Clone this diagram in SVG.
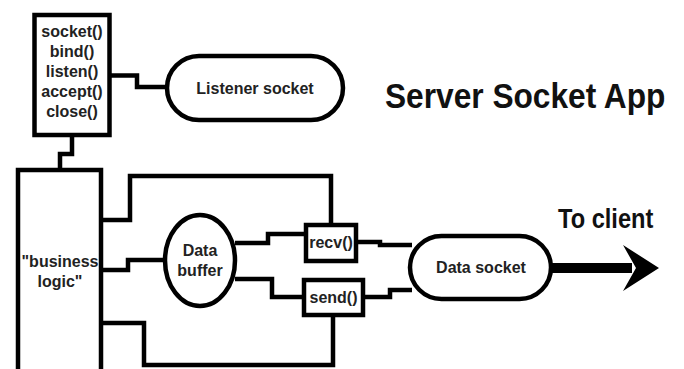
<svg xmlns="http://www.w3.org/2000/svg" width="684" height="369" viewBox="0 0 684 369">
<style>
.box{fill:#fff;stroke:#000;stroke-width:4.5}
.wire{fill:none;stroke:#000;stroke-width:4.5;stroke-linejoin:miter}
.t{font-family:"Liberation Sans",Arial,sans-serif;font-weight:bold;font-size:16px;fill:#222;text-anchor:middle}
.big{font-family:"Liberation Sans",Arial,sans-serif;font-weight:bold;fill:#111}
</style>
<rect width="684" height="369" fill="#fff"/>
<g id="connectors">
  <polyline class="wire" points="111,75.5 137,75.5 137,87 167,87"/>
  <polyline class="wire" points="72,137 72,154 60,154 60,170"/>
  <polyline class="wire" points="101,220 130,220 130,176 331,176 331,225"/>
  <polyline class="wire" points="101,270 128,270 128,260 165,260"/>
  <polyline class="wire" points="235,243 268,243 268,234 306,234"/>
  <polyline class="wire" points="235,279 272,279 272,297 304,297"/>
  <polyline class="wire" points="101,323 144,323 144,365 333,365 333,315"/>
  <polyline class="wire" points="356,242 380,242 380,245 412,245"/>
  <polyline class="wire" points="363,297 390,297 390,290 412,290"/>
  <line x1="551" y1="268" x2="632" y2="268" stroke="#000" stroke-width="10"/>
  <polygon points="623,245 659,268 623,291 636,268" fill="#000"/>
</g>
<g id="api-calls">
  <rect class="box" x="34.5" y="15" width="75" height="120"/>
  <text class="t" x="72" y="37">socket()</text>
  <text class="t" x="72" y="57">bind()</text>
  <text class="t" x="72" y="77">listen()</text>
  <text class="t" x="72" y="97">accept()</text>
  <text class="t" x="72" y="117">close()</text>
</g>
<g id="listener-socket">
  <rect class="box" x="167" y="56" width="176" height="64" rx="32"/>
  <text class="t" x="255" y="94">Listener socket</text>
</g>
<g id="title">
  <text class="big" transform="translate(385,108) scale(0.88,1)" x="0" y="0" font-size="36">Server Socket App</text>
</g>
<g id="business-logic">
  <rect class="box" x="18" y="170" width="83" height="230"/>
  <text class="t" x="60" y="267">"business</text>
  <text class="t" x="60" y="287">logic"</text>
</g>
<g id="data-buffer">
  <ellipse class="box" cx="200" cy="260.5" rx="35" ry="45.5"/>
  <text class="t" x="200" y="256">Data</text>
  <text class="t" x="200" y="276">buffer</text>
</g>
<g id="recv">
  <rect class="box" x="306" y="225" width="50" height="36"/>
  <text class="t" x="331" y="248">recv()</text>
</g>
<g id="send">
  <rect class="box" x="304" y="280" width="59" height="35"/>
  <text class="t" x="333.5" y="303">send()</text>
</g>
<g id="data-socket">
  <rect class="box" x="410" y="236" width="141" height="63" rx="31.5"/>
  <text class="t" x="481" y="273">Data socket</text>
</g>
<g id="to-client">
  <text class="big" transform="translate(558,228) scale(0.875,1)" x="0" y="0" font-size="27">To client</text>
</g>
</svg>
